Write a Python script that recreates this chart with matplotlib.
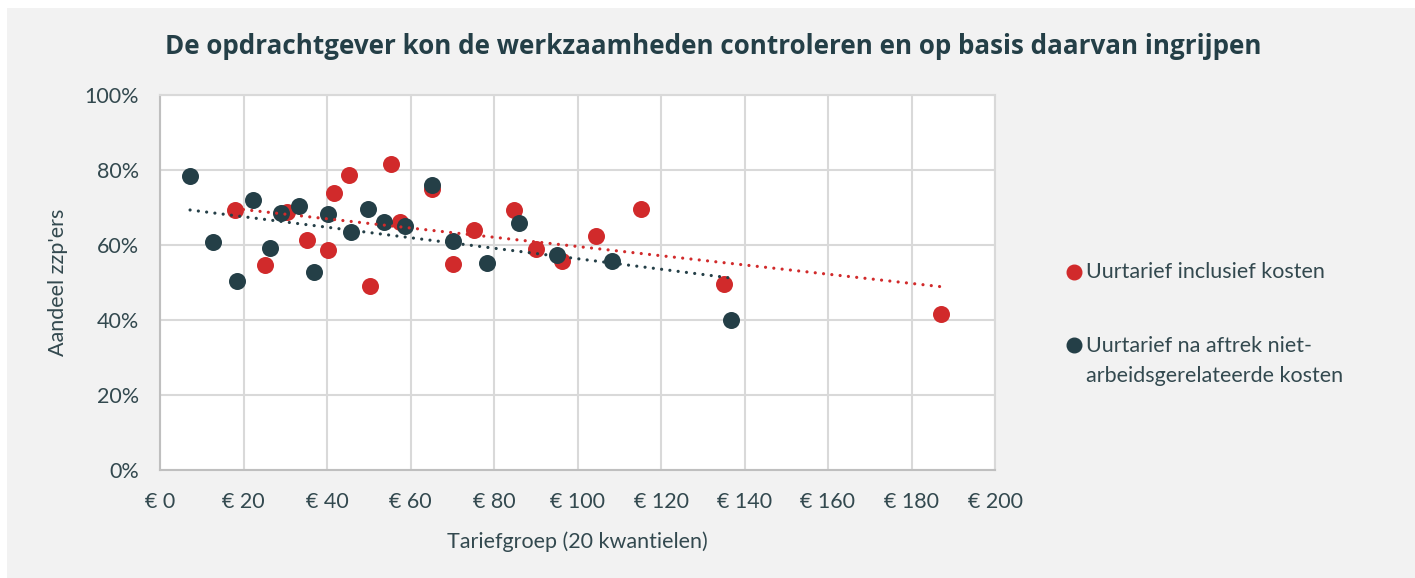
import numpy as np
import matplotlib
matplotlib.use("Agg")
import matplotlib.pyplot as plt
from matplotlib.patches import Rectangle
from matplotlib.ticker import FuncFormatter, MultipleLocator

plt.rcParams['font.family'] = ['Lato', 'DejaVu Sans']

# ---- data ----
title = "De opdrachtgever kon de werkzaamheden controleren en op basis daarvan ingrijpen"
x_label = "Tariefgroep (20 kwantielen)"
y_label = "Aandeel zzp'ers"
label_incl = "Uurtarief inclusief kosten"
label_excl = "Uurtarief na aftrek niet-\narbeidsgerelateerde kosten"

incl_x = [18.0, 25.1, 30.4, 35.2, 40.2, 41.7, 45.3, 50.3, 55.3, 57.5,
          65.1, 70.2, 75.2, 84.8, 90.0, 96.3, 104.4, 115.2, 135.1, 187.1]
incl_y = [69.3, 54.7, 68.8, 61.3, 58.7, 73.9, 78.7, 49.1, 81.6, 66.1,
          75.0, 54.9, 64.0, 69.3, 58.9, 55.7, 62.4, 69.6, 49.6, 41.6]

excl_x = [7.2, 12.7, 18.4, 22.3, 26.3, 29.0, 33.3, 36.9, 40.2, 45.7,
          49.9, 53.7, 58.7, 65.1, 70.2, 78.3, 86.0, 95.1, 108.3, 136.8]
excl_y = [78.4, 60.8, 50.4, 72.0, 59.2, 68.5, 70.4, 52.8, 68.3, 63.5,
          69.6, 66.2, 65.1, 76.0, 61.1, 55.3, 65.9, 57.3, 55.7, 40.0]

RED = '#d12a2b'
DARK = '#243f47'
TXT = '#33494f'
GRID = '#d9d9d9'

W, H = 1415, 578
fig = plt.figure(figsize=(W / 100, H / 100), dpi=100)
fig.patch.set_facecolor('white')
fig.patches.append(Rectangle((7 / W, 0), 1 - 7 / W, 1 - 8 / H, transform=fig.transFigure,
                             facecolor='#f2f2f2', edgecolor='none', zorder=-10))

ax = fig.add_axes([160 / W, 1 - 470 / H, (995 - 160) / W, (470 - 95) / H])
ax.set_facecolor('white')

ax.scatter(incl_x, incl_y, s=150, color=RED, zorder=3, linewidths=0)
ax.scatter(excl_x, excl_y, s=150, color=DARK, zorder=4, linewidths=0)

# linear trendlines
for xs, ys, c in [(incl_x, incl_y, RED), (excl_x, excl_y, DARK)]:
    xs = np.asarray(xs); ys = np.asarray(ys)
    k, b = np.polyfit(xs, ys, 1)
    xx = np.array([xs.min(), xs.max()])
    ax.plot(xx, k * xx + b, color=c, lw=2.3, linestyle=(0, (0.01, 2.6)),
            dash_capstyle='round', zorder=5)

ax.set_xlim(0, 200)
ax.set_ylim(0, 100)
ax.xaxis.set_major_locator(MultipleLocator(20))
ax.yaxis.set_major_locator(MultipleLocator(20))
ax.xaxis.set_major_formatter(FuncFormatter(lambda v, p: f"€ {v:.0f}"))
ax.yaxis.set_major_formatter(FuncFormatter(lambda v, p: f"{v:.0f}%"))
ax.grid(True, color=GRID, lw=1.5, zorder=0)
ax.set_axisbelow(True)
ax.tick_params(length=0, labelsize=15.5, labelcolor=TXT)
ax.tick_params(axis='y', pad=15)
ax.tick_params(axis='x', pad=16)
for s in ['left', 'bottom']:
    ax.spines[s].set_color('#bfbfbf')
    ax.spines[s].set_linewidth(1.5)
for s in ['top', 'right']:
    ax.spines[s].set_color(GRID)
    ax.spines[s].set_linewidth(1.5)

ax.set_xlabel(x_label, fontsize=15.5, color=TXT, labelpad=14)
ax.set_ylabel(y_label, fontsize=15.5, color=TXT, labelpad=12)

fig.text(713 / W, 1 - 46 / H, title, ha='center', va='center', fontsize=18.7,
         fontweight='bold', color=DARK, family=['Open Sans', 'DejaVu Sans'])

# legend (drawn manually to match placement)
fig.lines.append(plt.Line2D([1074 / W], [1 - 272 / H], marker='o', markersize=10.5,
                            color=RED, linestyle='none', transform=fig.transFigure))
fig.lines.append(plt.Line2D([1074 / W], [1 - 345 / H], marker='o', markersize=10.5,
                            color=DARK, linestyle='none', transform=fig.transFigure))
fig.text(1086 / W, 1 - 272 / H, label_incl, ha='left', va='center', fontsize=15.5, color=TXT)
fig.text(1086 / W, 1 - 361 / H, label_excl, ha='left', va='center', fontsize=15.5,
         color=TXT, linespacing=1.65)

fig.savefig('out.png', dpi=100, facecolor=fig.get_facecolor())
